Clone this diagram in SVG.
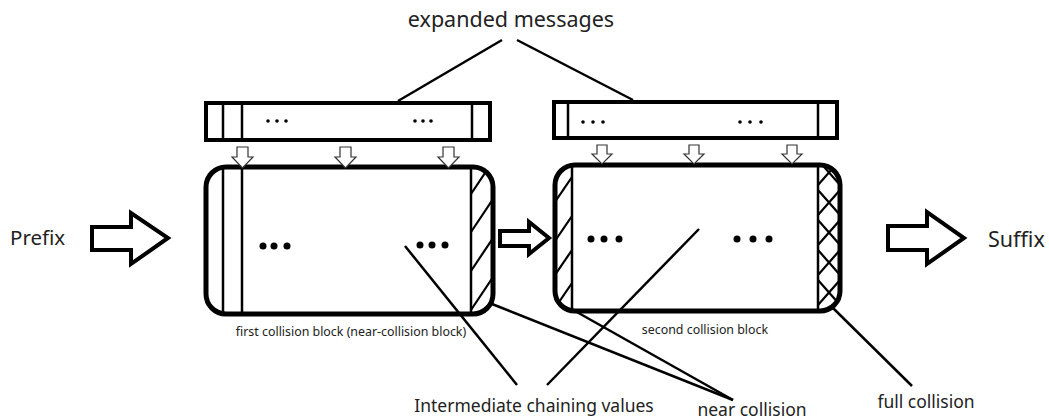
<svg xmlns="http://www.w3.org/2000/svg" width="1049" height="420" viewBox="0 0 1049 420">
<style>
.lbl{font-family:"Noto Sans","Open Sans",sans-serif;fill:#222;}
.box{fill:#fff;stroke:#000;stroke-width:4;}
.blk{fill:none;stroke:#000;stroke-width:5;}
.div{stroke:#000;stroke-width:2.5;fill:none;}
.hatch{stroke:#000;stroke-width:2.2;fill:none;}
.con{stroke:#000;stroke-width:2.5;fill:none;}
.sarr{fill:#fff;stroke:#333;stroke-width:1.2;}
.barr{fill:#fff;stroke:#000;stroke-width:4;stroke-linejoin:miter;}
.dot{fill:#000;}
</style>
<defs>
<clipPath id="c1"><rect x="206" y="167" width="287" height="147" rx="20"/></clipPath>
<clipPath id="c2"><rect x="555" y="165" width="285" height="146" rx="20"/></clipPath>
</defs>

<g id="title"><text class="lbl" x="511" y="27" font-size="21.5" text-anchor="middle">expanded messages</text></g>

<g id="msg1">
<rect class="box" x="206" y="103" width="284" height="37"/>
<line class="div" x1="223" y1="103" x2="223" y2="140"/>
<line class="div" x1="242" y1="103" x2="242" y2="140"/>
<line class="div" x1="472" y1="103" x2="472" y2="140"/>
<circle class="dot" cx="268" cy="121" r="1.8"/><circle class="dot" cx="277" cy="121" r="1.8"/><circle class="dot" cx="286" cy="121" r="1.8"/>
<circle class="dot" cx="415" cy="121" r="1.8"/><circle class="dot" cx="423" cy="121" r="1.8"/><circle class="dot" cx="431" cy="121" r="1.8"/>
</g>

<g id="msg2">
<rect class="box" x="554" y="102" width="283" height="36"/>
<line class="div" x1="568" y1="102" x2="568" y2="138"/>
<line class="div" x1="818" y1="102" x2="818" y2="138"/>
<circle class="dot" cx="583" cy="122" r="1.8"/><circle class="dot" cx="593" cy="122" r="1.8"/><circle class="dot" cx="603" cy="122" r="1.8"/>
<circle class="dot" cx="740" cy="122" r="1.8"/><circle class="dot" cx="750" cy="122" r="1.8"/><circle class="dot" cx="761" cy="122" r="1.8"/>
</g>

<g id="block1">
<g clip-path="url(#c1)">
<line class="hatch" x1="471" y1="194" x2="493" y2="161"/>
<line class="hatch" x1="471" y1="232" x2="493" y2="199"/>
<line class="hatch" x1="471" y1="271" x2="493" y2="238"/>
<line class="hatch" x1="471" y1="310" x2="493" y2="277"/>
</g>
<line class="div" x1="223" y1="167" x2="223" y2="314"/>
<line class="div" x1="242" y1="167" x2="242" y2="314"/>
<line class="div" x1="471" y1="167" x2="471" y2="314"/>
<rect class="blk" x="206" y="167" width="287" height="147" rx="20"/>
<circle class="dot" cx="263" cy="246" r="3.5"/><circle class="dot" cx="274" cy="246" r="3.5"/><circle class="dot" cx="287" cy="246" r="3.5"/>
<circle class="dot" cx="420" cy="245" r="3.5"/><circle class="dot" cx="432" cy="245" r="3.5"/><circle class="dot" cx="445" cy="245" r="3.5"/>
<text class="lbl" x="351" y="336" font-size="12.4" text-anchor="middle">first collision block (near-collision block)</text>
</g>

<g id="block2">
<g clip-path="url(#c2)">
<line class="hatch" x1="555" y1="202" x2="572" y2="177"/>
<line class="hatch" x1="555" y1="241" x2="572" y2="216"/>
<line class="hatch" x1="555" y1="275" x2="572" y2="250"/>
<line class="hatch" x1="555" y1="308" x2="572" y2="283"/>
<line class="hatch" x1="818" y1="160" x2="840" y2="185"/>
<line class="hatch" x1="818" y1="190" x2="840" y2="215"/>
<line class="hatch" x1="818" y1="220" x2="840" y2="245"/>
<line class="hatch" x1="818" y1="250" x2="840" y2="275"/>
<line class="hatch" x1="818" y1="280" x2="840" y2="305"/>
<line class="hatch" x1="818" y1="310" x2="840" y2="335"/>
<line class="hatch" x1="818" y1="185" x2="840" y2="160"/>
<line class="hatch" x1="818" y1="215" x2="840" y2="190"/>
<line class="hatch" x1="818" y1="245" x2="840" y2="220"/>
<line class="hatch" x1="818" y1="275" x2="840" y2="250"/>
<line class="hatch" x1="818" y1="305" x2="840" y2="280"/>
<line class="hatch" x1="818" y1="335" x2="840" y2="310"/>
</g>
<line class="div" x1="572" y1="165" x2="572" y2="311"/>
<line class="div" x1="818" y1="165" x2="818" y2="311"/>
<rect class="blk" x="555" y="165" width="285" height="146" rx="20"/>
<circle class="dot" cx="591" cy="239" r="3.5"/><circle class="dot" cx="604" cy="239" r="3.5"/><circle class="dot" cx="619" cy="239" r="3.5"/>
<circle class="dot" cx="737" cy="239" r="3.5"/><circle class="dot" cx="753" cy="239" r="3.5"/><circle class="dot" cx="769" cy="239" r="3.5"/>
<text class="lbl" x="705" y="334" font-size="12.4" text-anchor="middle">second collision block</text>
</g>

<g id="prefix">
<text class="lbl" x="10" y="245" font-size="20.5">Prefix</text>
<polygon class="barr" points="92,227 131,227 131,213 168,238 131,264 131,250 92,250"/>
</g>

<g id="suffix">
<polygon class="barr" points="888,226 927,226 927,212 964,238 927,264 927,250 888,250"/>
<text class="lbl" x="988" y="247" font-size="21.5">Suffix</text>
</g>

<g id="labels">
<text class="lbl" x="534" y="412" font-size="17.5" text-anchor="middle">Intermediate chaining values</text>
<text class="lbl" x="752" y="416" font-size="17.5" text-anchor="middle">near collision</text>
<text class="lbl" x="926" y="408" font-size="17.5" text-anchor="middle">full collision</text>
</g>

<g id="connectors">
<polygon class="sarr" points="237,147 248,147 248,157 253,157 242.5,168 232,157 237,157"/>
<polygon class="sarr" points="340,147 351,147 351,157 356,157 345.5,168 335,157 340,157"/>
<polygon class="sarr" points="443,147 454,147 454,157 459,157 448.5,168 438,157 443,157"/>
<polygon class="sarr" points="597,145 607,145 607,154 612,154 602,164 592,154 597,154"/>
<polygon class="sarr" points="689,145 699,145 699,154 704,154 694,164 684,154 689,154"/>
<polygon class="sarr" points="787,145 797,145 797,154 802,154 792,164 782,154 787,154"/>
<polygon class="barr" points="500,231 529,231 529,222 549,238 529,254 529,246 500,246"/>
<line class="con" x1="502" y1="40" x2="398" y2="101"/>
<line class="con" x1="517" y1="40" x2="633" y2="100"/>
<line class="con" x1="405" y1="246" x2="517" y2="385"/>
<line class="con" x1="699" y1="229" x2="547" y2="385"/>
<line class="con" x1="492" y1="304" x2="733" y2="400"/>
<line class="con" x1="575" y1="311" x2="733" y2="400"/>
<line class="con" x1="833" y1="308" x2="912" y2="386"/>
</g>
</svg>
